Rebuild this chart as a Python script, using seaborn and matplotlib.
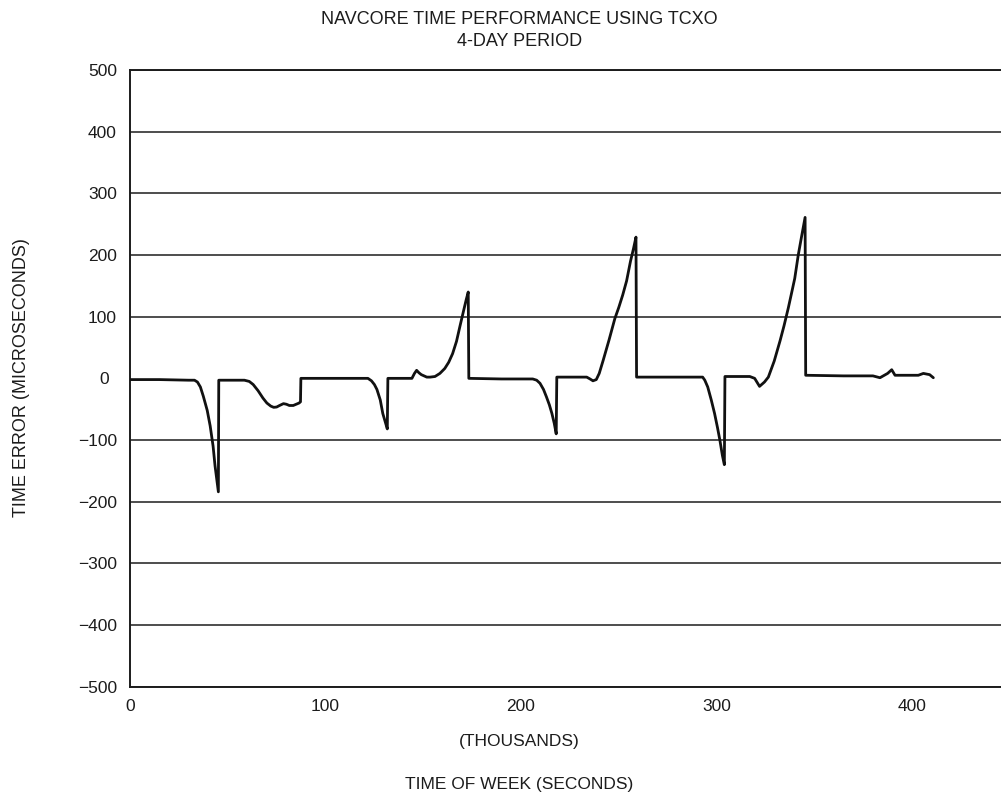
import matplotlib
matplotlib.use("Agg")
import matplotlib.pyplot as plt
import seaborn as sns
import pandas as pd

# ---- data (time of week in thousands of seconds, time error in microseconds) ----
time_k = [0, 15, 30, 33, 34.5, 36, 37.5, 39.5, 41, 42.5, 43.5, 45.2, 45.4,
          52, 58.5, 61, 63, 65.5, 68, 70, 72, 73.5, 75, 76.5, 78.5, 80, 81.5, 83.5, 85, 86.5, 87.2, 87.4,
          100, 121.7, 123.5, 125, 126.3, 128, 129.3, 130.5, 131.6, 131.9,
          144.2, 145.5, 146.6, 147.8, 149, 151.8, 153.5, 156, 158.5, 161, 163, 165, 167, 168.8, 170.5, 172, 173, 173.3,
          190, 206, 208, 209.7, 211.5, 213, 214.5, 215.8, 217, 218, 218.3,
          233.6, 235.3, 236.8, 238.5, 240, 242, 245, 248, 250, 252, 254, 256, 257.5, 258.8, 259.1,
          275, 292.9, 294, 295.5, 297.3, 299, 300.5, 301.7, 303, 304, 304.3,
          317, 319.5, 322, 324.5, 326.5, 329.5, 332.5, 334.5, 336.7, 338.5, 340, 341.8, 343.5, 345.3, 345.6,
          365, 380, 383.6, 387.5, 389.6, 391.3, 403.2, 405.8, 409, 410.9]
error_us = [-2, -2, -3, -3, -6, -14, -29, -52, -77, -110, -142, -184, -3,
            -3, -3, -5, -10, -20, -32, -40, -45, -47, -46.5, -44, -41, -42, -44, -44, -42, -40, -38, 0,
            0, 0, -4, -10, -18, -35, -57, -70, -82, 0,
            0, 8, 13, 9, 6, 2, 2, 3, 8, 16, 26, 40, 60, 85, 108, 128, 140, 0,
            -1, -1, -3, -8, -18, -30, -43, -57, -73, -90, 2,
            2, -1, -4, -2, 8, 29, 62, 97, 115, 135, 158, 190, 210, 229, 2,
            2, 2, -3, -14, -35, -57, -80, -100, -125, -140, 3,
            3, 0, -13, -6, 2, 28, 61, 85, 114, 140, 162, 200, 230, 261, 5,
            4, 4, 1, 8, 14, 5, 5, 8, 6, 1]

y_ticks = [-500, -400, -300, -200, -100, 100, 200, 300, 400, 500]
y_labels = ["\u2212500", "\u2212400", "\u2212300", "\u2212200", "\u2212100",
            "100", "200", "300", "400", "500"]
x_ticks = [0, 100, 200, 300, 400]
x_labels = ["0", "100", "200", "300", "400"]
x_minor = [50, 150, 250, 350]

title_1 = "NAVCORE TIME PERFORMANCE USING TCXO"
title_2 = "4-DAY PERIOD"
ylab = "TIME ERROR (MICROSECONDS)"
xlab_1 = "(THOUSANDS)"
xlab_2 = "TIME OF WEEK (SECONDS)"

df = pd.DataFrame({"t": time_k, "err": error_us})

sns.set_style("white")
plt.rcParams["font.family"] = ["Liberation Sans", "DejaVu Sans"]
REG = ["Liberation Sans", "DejaVu Sans"]

fig = plt.figure(figsize=(10.01, 7.93), dpi=100)
ax = fig.add_axes([130 / 1001, 1 - 686.7 / 793, 1 - 130 / 1001, (686.7 - 70) / 793])

ink = "#1c1c1c"
sns.lineplot(data=df, x="t", y="err", sort=False, estimator=None, ax=ax,
             color="#111111", lw=2.0, zorder=3)

ax.set_xlim(0, 445.5)
ax.set_ylim(-500, 500)

# grid
ax.yaxis.grid(True, color=ink, lw=1.1)
ax.xaxis.grid(False)
for s in ["left", "bottom", "top"]:
    ax.spines[s].set_color(ink)
    ax.spines[s].set_linewidth(1.4)
ax.spines["right"].set_visible(False)

# y ticks
ax.set_yticks(y_ticks, labels=y_labels)
ax.set_yticks([0], labels=["0"], minor=True)
ax.tick_params(axis="y", which="major", length=0, pad=9.5, labelsize=12.5, labelcolor=ink)
ax.tick_params(axis="y", which="minor", length=11, width=1.3, color=ink, direction="out",
               pad=4, labelsize=12.5, labelcolor=ink)

# x ticks
ax.set_xticks(x_ticks, labels=x_labels)
ax.set_xticks(x_minor, minor=True)
ax.tick_params(axis="x", which="both", direction="in", length=9, width=1.3, color=ink,
               pad=8.5, labelsize=12.5, labelcolor=ink, top=False)

ax.set_xlabel("")
ax.set_ylabel("")

# text
fig.text(0.519, 1 - 20 / 793, title_1, ha="center", va="center", fontsize=13,
         family=REG, color=ink)
fig.text(0.519, 1 - 41 / 793, title_2, ha="center", va="center", fontsize=13,
         family=REG, color=ink)
fig.text(0.519, 1 - 741.7 / 793, xlab_1, ha="center", va="center", fontsize=12.5,
         family=REG, color=ink)
fig.text(0.519, 1 - 785 / 793, xlab_2, ha="center", va="center", fontsize=12.5,
         family=REG, color=ink)
fig.text(22 / 1001, 1 - 378 / 793, ylab, ha="center", va="center", rotation=90,
         fontsize=13, family=REG, color=ink)

fig.savefig("out.png", dpi=100)
